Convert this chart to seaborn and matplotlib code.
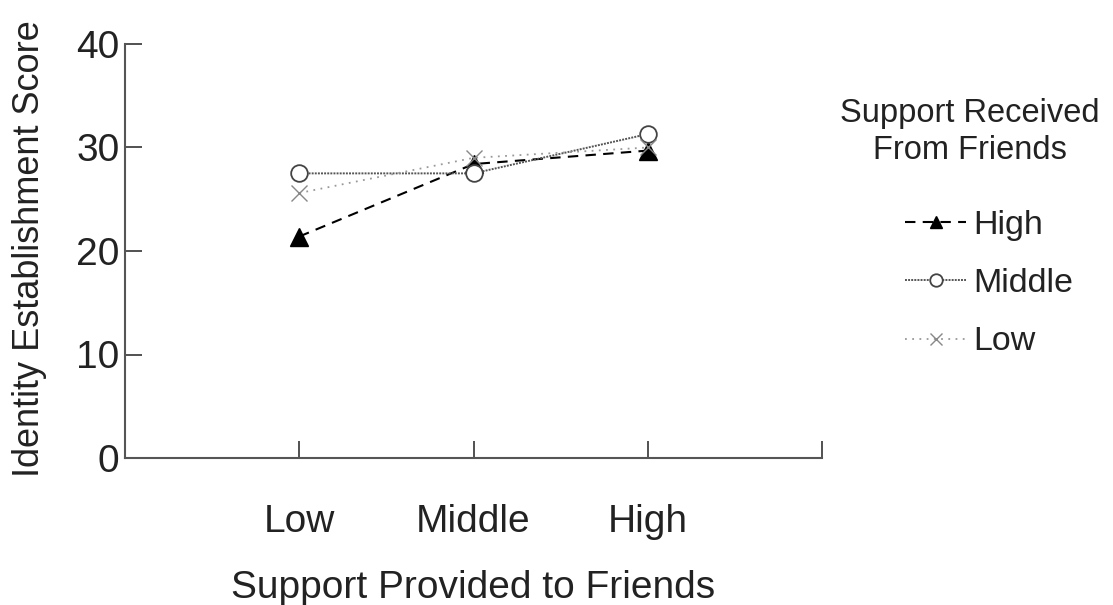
import matplotlib
matplotlib.use("Agg")
import matplotlib.pyplot as plt
import seaborn as sns
import pandas as pd

provided = ["Low", "Middle", "High"]
received_high = [21.4, 28.4, 29.7]
received_middle = [27.5, 27.5, 31.3]
received_low = [25.6, 29.0, 30.0]
series_names = ["High", "Middle", "Low"]

sns.set_theme(style="ticks")
plt.rcParams['font.family'] = ['Liberation Sans', 'DejaVu Sans']

rows = []
for name, vals in zip(series_names, [received_high, received_middle, received_low]):
    for i, (p, v) in enumerate(zip(provided, vals)):
        rows.append({"pos": i, "provided": p, "score": v, "received": name})
df = pd.DataFrame(rows)

W, H = 1113, 605
fig = plt.figure(figsize=(W / 100, H / 100), dpi=100)
ax = fig.add_axes([125 / W, 1 - 458 / H, 697 / W, 414 / H])

styles = {
    "High": dict(color="black", linestyle=(0, (5, 3.5)), lw=1.5, marker="^", ms=13,
                 mfc="black", mec="black", mew=1),
    "Middle": dict(color="#555555", linestyle=(0, (1, 0.6)), lw=1.4, marker="o", ms=12,
                   mfc="white", mec="#444444", mew=1.3),
    "Low": dict(color="#999999", linestyle=(0, (1, 3)), lw=1.3, marker="x", ms=12,
                mfc="none", mec="#888888", mew=1),
}
for name in series_names:
    sub = df[df["received"] == name]
    sns.lineplot(data=sub, x="pos", y="score", ax=ax, label=name, **styles[name])

ax.set_xlim(-1, 3)
ax.set_ylim(0, 40)
ax.set_xticks([0, 1, 2, 3])
ax.set_xticklabels(provided + [""])
ax.set_yticks([0, 10, 20, 30, 40])
ax.tick_params(axis="both", direction="in", length=12, width=1.2, colors="#333333",
               labelsize=28, labelcolor="#222222")
ax.tick_params(axis="x", pad=33)
ax.tick_params(axis="y", pad=4)
for s in ["top", "right"]:
    ax.spines[s].set_visible(False)
for s in ["left", "bottom"]:
    ax.spines[s].set_color("#555555")
    ax.spines[s].set_linewidth(1.5)
ax.set_xlabel("Support Provided to Friends", fontsize=28, color="#222222", labelpad=22)
ax.set_ylabel("Identity Establishment Score", fontsize=26, color="#222222")
ax.yaxis.set_label_coords((47 - 125) / 697, (458 - 249) / 414)

leg = ax.legend(loc="upper left", bbox_to_anchor=(905 / W, 1 - 210 / H),
                bbox_transform=fig.transFigure, frameon=False, fontsize=24.5,
                handlelength=1.8, labelspacing=0.8, handletextpad=0.2, borderpad=0,
                borderaxespad=0)
for t in leg.get_texts():
    t.set_color("#222222")
for h in leg.legend_handles:
    h.set_markersize(9)

fig.text(970 / W, 1 - 132 / H, "Support Received\nFrom Friends", ha="center", va="center",
         multialignment="center", fontsize=23.5, color="#222222", linespacing=1.22)

fig.savefig("out.png", dpi=100)
